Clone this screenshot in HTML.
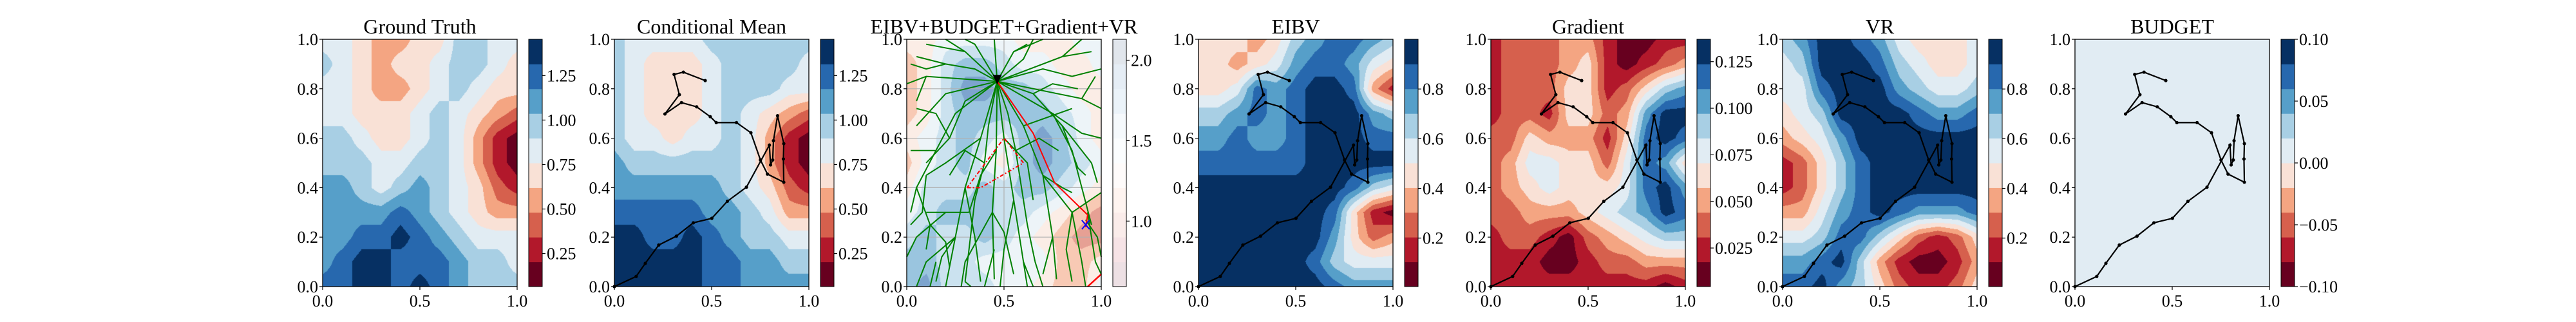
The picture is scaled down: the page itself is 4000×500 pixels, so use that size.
<!DOCTYPE html>
<html><head><meta charset="utf-8">
<style>
html,body{margin:0;padding:0;background:#fff;}
#wrap{position:relative;width:4000px;height:500px;overflow:hidden;background:#fff;}
canvas{position:absolute;}
svg{position:absolute;left:0;top:0;}
text{font-family:"Liberation Serif","DejaVu Serif",serif;fill:#000;}
</style></head>
<body>
<div id="wrap">
<svg id="svg" width="4000" height="500"></svg>
</div>
<script>
// ---- data (band levels; grid x=0..1 step .1, rows y=1 (top) .. 0 (bottom)) ----
const gtGrid=[
[5,5,4,3,3,4,4,6,6,5,5],[6,5,4,3,4,4,5,6,6,5,4],[5,5,4,3,3,4,5,6,5,4,4],[5,5,4,4,4,5,6,5,4,3,2],
[6,6,5,4,4,5,6,5,3,1,0],[6,6,6,5,5,6,6,5,3,1,0],[7,7,6,5,6,7,6,5,4,2,1],[7,7,7,7,8,7,6,5,4,3,3],
[7,7,8,8,9,8,7,6,5,5,5],[7,8,9,9,8,8,8,7,6,6,5],[8,8,9,9,8,9,8,7,6,6,6]];
const cmGrid=[
[6,5,5,5,5,6,6,6,6,6,6],[6,5,4,4,4,5,6,6,6,6,5],[6,5,4,4,4,5,6,6,6,5,5],[6,5,4,4,4,5,6,5,4,3,2],
[6,5,5,4,5,5,6,5,3,1,0],[7,6,6,6,6,6,6,5,3,1,0],[7,7,7,7,7,7,6,5,4,2,1],[8,8,8,8,8,7,7,6,5,3,3],
[9,9,8,8,9,8,7,6,6,5,5],[9,9,9,9,9,8,8,7,7,6,6],[9,9,9,9,9,8,8,7,7,7,7]];
const comboGrid=[
[4,4,5,5,5,5,4,4,4,5,5],[3,4,6,7,7,6,5,5,4,4,5],[3,4,6,8,8,7,7,6,5,4,4],[3,4,6,7,7,7,7,7,6,5,4],
[4,5,6,7,6,5,7,8,7,5,4],[3,5,6,7,5,4,7,8,7,6,5],[4,6,6,6,7,6,7,7,6,5,4],[5,6,7,7,7,6,6,5,4,3,2],
[6,7,6,6,7,6,5,4,3,2,2],[7,7,6,6,5,5,5,5,3,3,4],[7,8,6,6,6,5,5,4,3,3,5]];
const eibvGrid=[
[4,4,4,3,4,6,7,8,8,7,6],[4,4,3,4,5,7,8,8,7,5,4],[4,4,5,8,7,8,9,9,8,3,1],[6,6,7,8,7,8,9,9,9,7,6],
[7,7,8,7,7,8,9,9,9,8,8],[8,8,8,8,8,8,9,9,9,9,9],[9,9,9,9,9,9,9,9,8,6,5],[9,9,9,9,9,9,9,8,4,1,0],
[9,9,9,9,9,9,9,7,4,2,3],[9,9,9,9,9,9,8,6,5,5,5],[9,9,9,9,9,9,9,8,7,7,7]];
const gradGrid=[
[1,2,2,2,3,3,1,0,0,1,1],[1,2,2,2,3,4,1,0,1,2,3],[1,2,2,2,4,4,1,2,4,6,7],[1,2,2,1,4,4,2,3,7,9,9],
[2,2,4,3,3,3,1,4,8,9,8],[2,3,5,5,4,4,2,5,8,7,4],[2,3,4,5,4,4,4,5,8,9,7],[2,2,3,3,3,4,5,6,7,9,8],
[1,2,2,1,0,2,3,4,5,6,6],[1,1,1,0,0,1,2,2,3,3,3],[1,1,1,1,1,1,1,1,1,0,1]];
const vrGrid=[
[6,7,9,9,8,7,5,4,4,4,5],[5,6,9,9,9,8,6,5,4,4,5],[5,5,8,9,9,9,7,6,5,5,6],[4,5,6,9,9,9,9,8,7,7,8],
[3,4,5,7,9,9,9,9,9,9,9],[1,2,4,6,8,9,9,9,9,9,9],[1,2,4,6,8,9,9,9,9,9,9],[3,3,5,7,8,9,8,7,7,7,8],
[5,5,6,8,8,6,4,2,1,2,4],[7,7,8,9,6,3,1,0,0,1,3],[8,8,9,7,6,4,2,1,1,2,4]];
const budgetGrid=[
[5,5,5,5,5,5,5,5,5,5,5],[5,5,5,5,5,5,5,5,5,5,5],[5,5,5,5,5,5,5,5,5,5,5],[5,5,5,5,5,5,5,5,5,5,5],
[5,5,5,5,5,5,5,5,5,5,5],[5,5,5,5,5,5,5,5,5,5,5],[5,5,5,5,5,5,5,5,5,5,5],[5,5,5,5,5,5,5,5,5,5,5],
[5,5,5,5,5,5,5,5,5,5,5],[5,5,5,5,5,5,5,5,5,5,5],[5,5,5,5,5,5,5,5,5,5,5]];
const titles=["Ground Truth","Conditional Mean","EIBV+BUDGET+Gradient+VR","EIBV","Gradient","VR","BUDGET"];
const cbMin=[0.064,0.064,0.593,0.005,0.0043,0.005,-0.1];
const cbMax=[1.454,1.454,2.13,1.0,0.137,1.0,0.1];
const cbTicks=[[0.25,0.5,0.75,1.0,1.25],[0.25,0.5,0.75,1.0,1.25],[1.0,1.5,2.0],[0.2,0.4,0.6,0.8],[0.025,0.05,0.075,0.1,0.125],[0.2,0.4,0.6,0.8],[-0.1,-0.05,0,0.05,0.1]];
const cbDigits=[2,2,1,1,3,1,2];
const xTicks=[0,0.5,1.0];
const yTicks=[0,0.2,0.4,0.6,0.8,1.0];
const pathX=[0,0.112,0.159,0.228,0.319,0.406,0.501,0.581,0.679,0.797,0.803,0.814,0.818,0.839,0.871,0.869,0.871,0.787,0.751,0.702,0.628,0.524,0.493,0.423,0.345,0.260,0.334,0.307,0.355,0.467];
const pathY=[0,0.041,0.094,0.168,0.204,0.258,0.276,0.345,0.402,0.572,0.492,0.512,0.590,0.691,0.578,0.516,0.422,0.455,0.512,0.622,0.663,0.663,0.687,0.727,0.744,0.698,0.776,0.858,0.867,0.833];
const treeBranches=[
[[0.465,0.83],[0.46,0.55],[0.44,0.3],[0.45,0.03]],
[[0.465,0.83],[0.5,0.6],[0.55,0.35],[0.6,0.1],[0.62,0]],
[[0.465,0.83],[0.6,0.65],[0.7,0.45],[0.75,0.2],[0.77,0.03]],
[[0.465,0.83],[0.75,0.7],[0.85,0.55],[0.9,0.4]],
[[0.465,0.83],[0.9,0.76],[1.0,0.72]],
[[0.465,0.83],[0.38,0.6],[0.3,0.4],[0.25,0.2],[0.2,0]],
[[0.465,0.83],[0.25,0.7],[0.15,0.55],[0.05,0.4],[0.02,0.3]],
[[0.465,0.83],[0.1,0.85],[0.0,0.82]],
[[0.465,0.83],[0.3,0.95],[0.1,0.98]],
[[0.465,0.83],[0.55,0.95],[0.7,1.0]],
[[0.465,0.83],[0.8,0.93],[0.95,0.95]],
[[0.465,0.83],[0.45,1.0]],
[[0.465,0.83],[0.2,0.78],[0.05,0.65]],
[[0.3,0.4],[0.35,0.2],[0.38,0.02]],
[[0.25,0.2],[0.1,0.1],[0.05,0]],
[[0.2,0.3],[0.05,0.2]],
[[0.55,0.35],[0.5,0.15],[0.48,0]],
[[0.7,0.45],[0.85,0.3],[0.9,0.1],[0.92,0]],
[[0.85,0.3],[1.0,0.38]],
[[0.15,0.55],[0.02,0.55]],
[[0.05,0.4],[0.12,0.25],[0.1,0.15]],
[[0.75,0.2],[0.7,0.05]],
[[0.6,0.65],[0.85,0.72]],
[[0.46,0.55],[0.38,0.45],[0.32,0.3]],
[[0.44,0.3],[0.3,0.1],[0.28,0]],
[[0.9,0.4],[0.95,0.25]],
[[0.3,0.95],[0.2,1.0]],
[[0.1,0.85],[0.05,0.75]],
[[0.38,0.6],[0.2,0.5],[0.1,0.45]],
[[0.5,0.6],[0.62,0.5],[0.65,0.35]],
[[0.75,0.7],[0.9,0.62],[1.0,0.6]],
[[0.55,0.95],[0.62,0.98]],
[[0.9,0.76],[0.97,0.85]],
[[0.8,0.93],[0.9,1.0]],
[[0.6,0.1],[0.65,0.0]],
[[0.45,0.15],[0.4,0.0]],
[[0.15,0.1],[0.12,0.0]],
[[0.05,0.2],[0.0,0.12]],
[[0.93,0.3],[0.97,0.1],[1.0,0.05]],
[[0.32,0.3],[0.22,0.3],[0.1,0.3]],
[[0.465,0.83],[0.42,0.65],[0.4,0.5],[0.35,0.35]],
[[0.465,0.83],[0.52,0.7],[0.56,0.55],[0.58,0.45]],
[[0.465,0.83],[0.65,0.78],[0.8,0.65],[0.95,0.5]],
[[0.465,0.83],[0.7,0.88],[0.85,0.85],[1.0,0.88]],
[[0.465,0.83],[0.35,0.88],[0.2,0.9],[0.05,0.93]],
[[0.465,0.83],[0.3,0.75],[0.22,0.6],[0.1,0.5]],
[[0.465,0.83],[0.6,0.92],[0.65,1.0]],
[[0.465,0.83],[0.35,0.98],[0.3,1.0]],
[[0.4,0.5],[0.3,0.55],[0.22,0.45]],
[[0.56,0.55],[0.68,0.6],[0.78,0.55]],
[[0.58,0.45],[0.62,0.25],[0.66,0.1]],
[[0.35,0.35],[0.32,0.15],[0.3,0.02]],
[[0.8,0.65],[0.88,0.48],[0.92,0.45]],
[[0.22,0.6],[0.15,0.7],[0.05,0.72]],
[[0.1,0.45],[0.08,0.3],[0.02,0.25]],
[[0.2,0.9],[0.1,0.88],[0.02,0.9]],
[[0.65,0.78],[0.75,0.82],[0.88,0.8]],
[[0.95,0.5],[0.98,0.42]],
[[0.66,0.1],[0.7,0.0]],
[[0.3,0.02],[0.33,0.0]],
[[0.25,0.2],[0.18,0.12],[0.15,0.02]],
[[0.44,0.3],[0.5,0.22],[0.55,0.05]],
[[0.7,0.45],[0.8,0.4],[0.85,0.38]],
[[0.12,0.25],[0.2,0.18],[0.22,0.08]],
[[0.85,0.3],[0.82,0.15],[0.85,0.02]],
[[0.92,0.27],[0.98,0.2],[1.0,0.12]]];
const redPathX=[0.465,0.65,0.76,0.93,0.92];
const redPathY=[0.83,0.62,0.42,0.29,0.24];
const triX=[0.31,0.38,0.6,0.5,0.31];
const triY=[0.40,0.40,0.5,0.6,0.40];

// ---- layout ----
const PL=[501,954,1408,1861,2315,2768,3222];
const W=302,H=384,T=61;
const COLORS=['#67001f','#b2182b','#d6604d','#f4a582','#f9e1d6','#e1ecf3','#a8cfe4','#569fc9','#2768ae','#063063'];
const grids=[gtGrid,cmGrid,comboGrid,eibvGrid,gradGrid,vrGrid,budgetGrid];
const NS='http://www.w3.org/2000/svg';
const svg=document.getElementById('svg');
const wrap=document.getElementById('wrap');
function hex(c){return [parseInt(c.substr(1,2),16),parseInt(c.substr(3,2),16),parseInt(c.substr(5,2),16)];}
function blend(c,a){const r=hex(c);return r.map(v=>Math.round(v*a+255*(1-a)));}
function el(tag,attrs,name,parent){
  const e=document.createElementNS(NS,tag);
  for(const k in attrs)e.setAttribute(k,attrs[k]);
  
  
  (parent||svg).appendChild(e);return e;
}
function sample(g,u,v){
  const i0=Math.min(Math.floor(v),9),j0=Math.min(Math.floor(u),9);
  const fv=v-i0,fu=u-j0;
  return g[i0][j0]*(1-fu)*(1-fv)+g[i0][j0+1]*fu*(1-fv)+g[i0+1][j0]*(1-fu)*fv+g[i0+1][j0+1]*fu*fv;
}
grids.forEach((g,p)=>{
  const L=PL[p];
  const cv=document.createElement('canvas');
  cv.width=W;cv.height=H;cv.style.left=L+'px';cv.style.top=T+'px';
  
  
  wrap.insertBefore(cv,svg);
  const ctx=cv.getContext('2d');const img=ctx.createImageData(W,H);
  for(let py=0;py<H;py++)for(let px=0;px<W;px++){
    const b=sample(g,px/(W-1)*10,py/(H-1)*10);
    const k=Math.max(0,Math.min(9,Math.round(b)));
    const c=p===2?blend(COLORS[k],0.6):hex(COLORS[k]);
    const o=(py*W+px)*4;img.data[o]=c[0];img.data[o+1]=c[1];img.data[o+2]=c[2];img.data[o+3]=255;
  }
  ctx.putImageData(img,0,0);
});
const sx=(p,x)=>PL[p]+x*W, sy=y=>T+H-y*H;
for(let p=0;p<7;p++){
  const L=PL[p];
  const g=el('g',{},'panel-'+p);
  if(p===2){
    [0.2,0.4,0.6,0.8].forEach(v=>el('line',{x1:L,x2:L+W,y1:sy(v),y2:sy(v),stroke:'#b0b0b0','stroke-width':1.2},'gridline-y',g));
    el('line',{x1:sx(p,0.5),x2:sx(p,0.5),y1:T,y2:T+H,stroke:'#b0b0b0','stroke-width':1.2},'gridline-x',g);
    treeBranches.forEach(br=>el('polyline',{points:br.map(q=>sx(p,q[0])+','+sy(q[1])).join(' '),fill:'none',stroke:'#008000','stroke-width':2},'tree-branch',g));
    el('polyline',{points:redPathX.map((x,i)=>sx(p,x)+','+sy(redPathY[i])).join(' '),fill:'none',stroke:'#ff0000','stroke-width':2},'planned-path',g);
    el('polyline',{points:triX.map((x,i)=>sx(p,x)+','+sy(triY[i])).join(' '),fill:'none',stroke:'#ff0000','stroke-width':2,'stroke-dasharray':'6,3,2,3'},'obstacle-outline',g);
    const rx=sx(p,0.465),ry=sy(0.83);
    el('polygon',{points:(rx-7)+','+(ry-10)+' '+(rx+7)+','+(ry-10)+' '+rx+','+(ry+5)},'start-marker',g);
    const bx=sx(p,0.92),by=sy(0.25);
    el('path',{d:'M'+(bx-6)+' '+(by-7)+'L'+(bx+6)+' '+(by+7)+'M'+(bx+6)+' '+(by-7)+'L'+(bx-6)+' '+(by+7),stroke:'#0000ff','stroke-width':2},'target-marker',g);
    el('line',{x1:sx(p,0.93),y1:sy(0),x2:sx(p,1),y2:sy(0.05),stroke:'#ff0000','stroke-width':2.5},'red-edge-line',g);
  }
  if(p!==0&&p!==2){
    el('polyline',{points:pathX.map((x,i)=>sx(p,x)+','+sy(pathY[i])).join(' '),fill:'none',stroke:'#000','stroke-width':2.2},'trajectory',g);
    pathX.forEach((x,i)=>el('circle',{cx:sx(p,x),cy:sy(pathY[i]),r:2.6,fill:'#000'},'trajectory-point',g));
  }
  el('rect',{x:L,y:T,width:W,height:H,fill:'none',stroke:'#000','stroke-width':1.3},'axes-frame',g);
  const tt=el('text',{x:L+W/2,y:52,'text-anchor':'middle','font-size':32},'panel-title',g);tt.textContent=titles[p];
  xTicks.forEach(v=>{
    el('line',{x1:sx(p,v),x2:sx(p,v),y1:T+H,y2:T+H+5,stroke:'#000','stroke-width':1.2},'x-tick',g);
    const t=el('text',{x:sx(p,v),y:476,'text-anchor':'middle','font-size':26},'x-tick-label',g);t.textContent=v.toFixed(1);
  });
  yTicks.forEach(v=>{
    el('line',{x1:L-5,x2:L,y1:sy(v),y2:sy(v),stroke:'#000','stroke-width':1.2},'y-tick',g);
    const t=el('text',{x:L-7,y:sy(v)+9,'text-anchor':'end','font-size':26},'y-tick-label',g);t.textContent=v.toFixed(1);
  });
  // colorbar
  const CX=L+320,CW=21;
  for(let k=0;k<10;k++){
    const c=p===2?'rgb('+blend(COLORS[k],0.12).join(',')+')':COLORS[k];
    el('rect',{x:CX,y:T+H-(k+1)*H/10,width:CW,height:H/10+0.5,fill:c},'colorbar-band',g);
  }
  el('rect',{x:CX,y:T,width:CW,height:H,fill:'none',stroke:'#000','stroke-width':1},'colorbar-frame',g);
  cbTicks[p].forEach(v=>{
    const yy=T+H-(v-cbMin[p])/(cbMax[p]-cbMin[p])*H;
    el('line',{x1:CX+CW,x2:CX+CW+5,y1:yy,y2:yy,stroke:'#000','stroke-width':1.2},'colorbar-tick',g);
    const t=el('text',{x:CX+CW+7,y:yy+9,'font-size':26},'colorbar-tick-label',g);
    t.textContent=(v<0?'\u2212':'')+Math.abs(v).toFixed(cbDigits[p]);
  });
}
</script>
</body></html>
